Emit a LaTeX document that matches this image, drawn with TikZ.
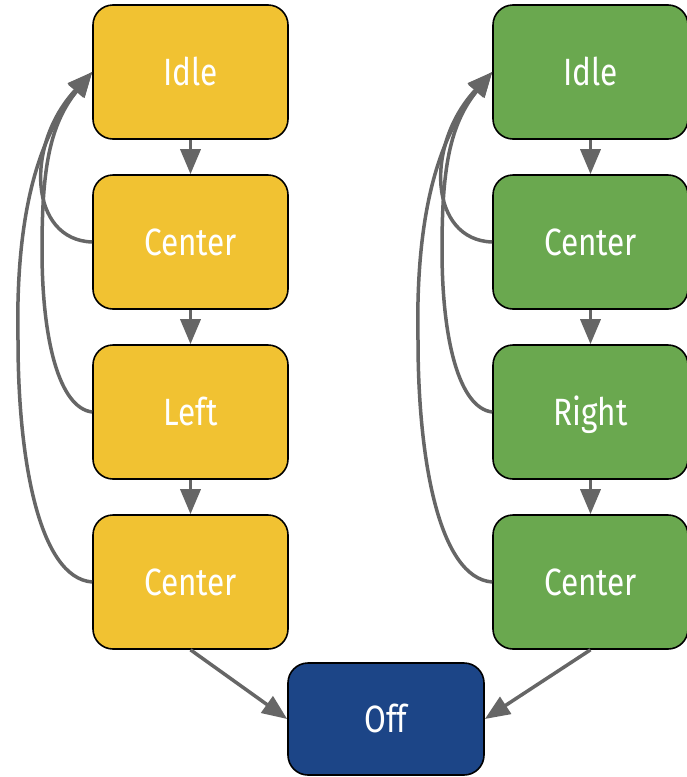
\documentclass[tikz,border=0pt]{standalone}
\usepackage{fontspec}
\setmainfont{Fira Sans}[FakeStretch=0.83]
\usetikzlibrary{arrows.meta}
\definecolor{stateyellow}{HTML}{F1C232}
\definecolor{stategreen}{HTML}{6AA84F}
\definecolor{stateblue}{HTML}{1C4587}
\definecolor{linkgray}{HTML}{666666}
\tikzset{
  state/.style={draw=black, line width=1.6pt, rounded corners=20pt,
    minimum width=195pt, minimum height=134pt, inner sep=0pt,
    text height=27pt, text depth=0pt,
    text=white, font=\fontsize{38}{40}\selectfont},
  conn/.style={draw=linkgray, line width=3.5pt,
    -{Triangle[length=25pt,width=20pt]}}
}
\begin{document}
\begin{tikzpicture}[x=1pt,y=-1pt]
\useasboundingbox (0,0) rectangle (686,777);

% left column
\node[state, fill=stateyellow] (li)  at (190.5,72)  {Idle};
\node[state, fill=stateyellow] (lc1) at (190.5,242) {Center};
\node[state, fill=stateyellow] (ll)  at (190.5,412) {Left};
\node[state, fill=stateyellow] (lc2) at (190.5,582) {Center};

% right column
\node[state, fill=stategreen] (ri)  at (590.5,72)  {Idle};
\node[state, fill=stategreen] (rc1) at (590.5,242) {Center};
\node[state, fill=stategreen] (rr)  at (590.5,412) {Right};
\node[state, fill=stategreen] (rc2) at (590.5,582) {Center};

% final state
\node[state, fill=stateblue, minimum width=196pt, minimum height=112pt] (off) at (386,719) {Off};

% forward steps
\draw[conn] (li) -- (lc1);
\draw[conn] (lc1) -- (ll);
\draw[conn] (ll) -- (lc2);
\draw[conn] (ri) -- (rc1);
\draw[conn] (rc1) -- (rr);
\draw[conn] (rr) -- (rc2);

% bend points of the long return paths
\coordinate (lbend) at (42,250);
\coordinate (lfar)  at (18,340);
\coordinate (rbend) at (442,250);
\coordinate (rfar)  at (418,340);

% return paths to idle
\foreach \col/\a/\b/\c/\idle in {l/lc1/ll/lc2/li, r/rc1/rr/rc2/ri}{
  \draw[conn] (\a.west) .. controls +(-63,-2) and +(-68,73) .. (\idle.west);
  \draw[conn] (\b.west) .. controls +(-33,-4) and +(0,90) .. (\col bend)
     .. controls +(0,-80) and +(-43,53) .. (\idle.west);
  \draw[conn] (\c.west) .. controls +(-53,-4) and +(0,120) .. (\col far)
     .. controls +(-3,-140) and +(-48,58) .. (\idle.west);
}

% into the final state
\draw[conn] (lc2.south) -- (off.west);
\draw[conn] (rc2.south) -- (off.east);
\end{tikzpicture}
\end{document}
